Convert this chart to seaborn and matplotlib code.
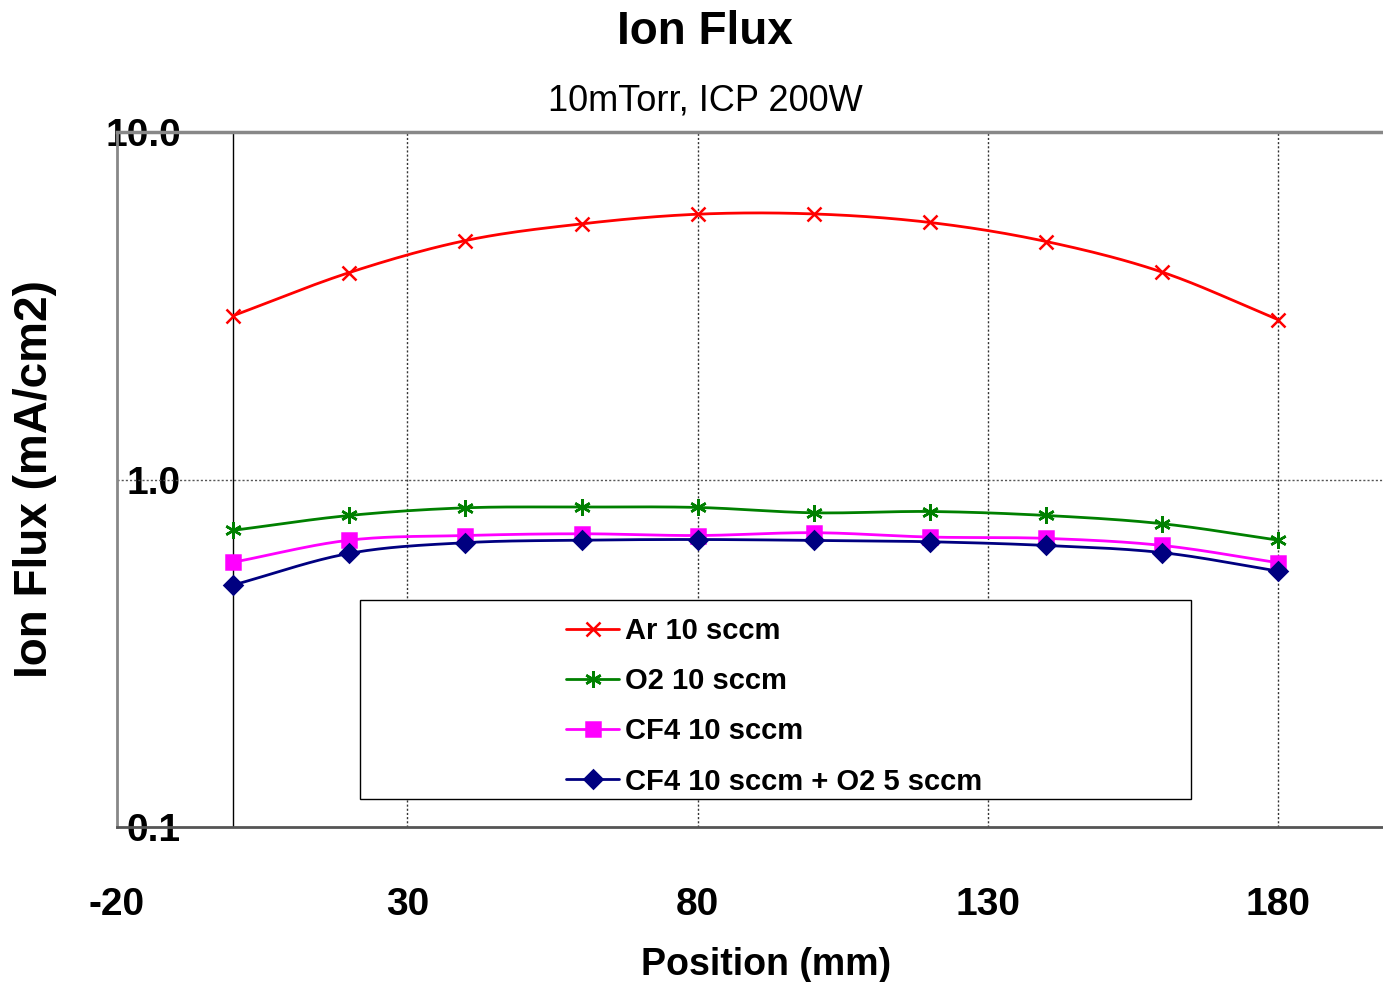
import numpy as np
import matplotlib
matplotlib.use("Agg")
import matplotlib.pyplot as plt
import seaborn as sns
from matplotlib.lines import Line2D
from matplotlib.patches import Rectangle

# ---- data ----
positions = [0, 20, 40, 60, 80, 100, 120, 140, 160, 180]
ar_10 = [2.96, 3.94, 4.87, 5.44, 5.80, 5.81, 5.49, 4.84, 3.95, 2.88]
o2_10 = [0.714, 0.788, 0.829, 0.833, 0.831, 0.802, 0.809, 0.788, 0.746, 0.669]
cf4_10 = [0.578, 0.669, 0.690, 0.698, 0.690, 0.703, 0.683, 0.677, 0.646, 0.576]
cf4_o2 = [0.497, 0.613, 0.658, 0.669, 0.672, 0.668, 0.662, 0.646, 0.616, 0.545]
series_names = ["Ar 10 sccm", "O2 10 sccm", "CF4 10 sccm", "CF4 10 sccm + O2 5 sccm"]
x_ticks = [-20, 30, 80, 130, 180]
y_ticks = [0.1, 1.0, 10.0]
y_ticklabels = ["0.1", "1.0", "10.0"]

colors = ["#FF0000", "#008000", "#FF00FF", "#000080"]
markers = ["x", (6, 2, 0), "s", "D"]
msizes = [10, 12, 10, 9]

sns.set_theme(style="white")
plt.rcParams["font.family"] = ["Liberation Sans", "DejaVu Sans"]
plt.rcParams["text.color"] = "black"
plt.rcParams["axes.labelcolor"] = "black"
plt.rcParams["xtick.color"] = "black"
plt.rcParams["ytick.color"] = "black"

fig = plt.figure(figsize=(13.83, 9.82), dpi=100)
ax = fig.add_axes([0.0846, 0.1578, 0.9154, 0.7078])


def smooth(x, y, n=20):
    # Catmull-Rom spline through points in (x, log10 y) space
    x = np.asarray(x, float)
    ly = np.log10(np.asarray(y, float))
    P = np.column_stack([x, ly])
    P = np.vstack([2 * P[0] - P[1], P, 2 * P[-1] - P[-2]])
    out = []
    for i in range(1, len(P) - 2):
        p0, p1, p2, p3 = P[i - 1], P[i], P[i + 1], P[i + 2]
        t = np.linspace(0, 1, n, endpoint=False)[:, None]
        seg = 0.5 * ((2 * p1) + (-p0 + p2) * t + (2 * p0 - 5 * p1 + 4 * p2 - p3) * t ** 2
                     + (-p0 + 3 * p1 - 3 * p2 + p3) * t ** 3)
        out.append(seg)
    out.append(P[-2][None, :])
    out = np.vstack(out)
    return out[:, 0], 10 ** out[:, 1]


all_series = [ar_10, o2_10, cf4_10, cf4_o2]
handles = []
for vals, name, c, m, ms in zip(all_series, series_names, colors, markers, msizes):
    sx, sy = smooth(positions, vals)
    sns.lineplot(x=sx, y=sy, ax=ax, color=c, lw=2.0, sort=False, estimator=None, zorder=3)
    ax.plot(positions, vals, ls="none", marker=m, ms=ms, color=c, mec=c, mew=1.8, zorder=4)
    handles.append(Line2D([0], [0], color=c, lw=2.0, marker=m, ms=ms, mec=c, mew=1.8))

ax.set_yscale("log")
ax.set_xlim(-20, 198)
ax.set_ylim(0.1, 10)

# grid lines
for xv in [30, 80, 130, 180]:
    ax.axvline(xv, color="#333333", lw=1.0, ls=(0, (1.5, 1.5)), zorder=1)
ax.axhline(1.0, color="#555555", lw=1.0, ls=(0, (1.5, 1.5)), zorder=1)
ax.axvline(0, color="black", lw=1.0, zorder=2)

ax.set_xticks(x_ticks)
ax.set_xticklabels([str(v) for v in x_ticks])
ax.set_yticks(y_ticks)
ax.set_yticklabels(y_ticklabels)
ax.yaxis.set_minor_locator(matplotlib.ticker.NullLocator())
ax.tick_params(axis="x", length=0, pad=43, labelsize=28, labelcolor="black")
ax.tick_params(axis="y", length=0, pad=-46, labelsize=28, labelcolor="black")
for lab in ax.get_xticklabels() + ax.get_yticklabels():
    lab.set_fontweight("bold")

ax.spines["right"].set_visible(False)
ax.spines["left"].set_color("#888888")
ax.spines["left"].set_linewidth(2.0)
ax.spines["top"].set_color("#888888")
ax.spines["top"].set_linewidth(2.5)
ax.spines["bottom"].set_color("#555555")
ax.spines["bottom"].set_linewidth(2.0)

ax.set_xlabel("Position (mm)", fontsize=27, fontweight="bold", color="black")
ax.xaxis.set_label_coords(0.513, -0.172)
ax.set_ylabel("Ion Flux (mA/cm2)", fontsize=33, fontweight="bold", color="black")
ax.yaxis.set_label_coords(-0.047, 0.5)

fig.text(0.51, 0.967, "Ion Flux", ha="center", va="center", fontsize=33, fontweight="bold", color="black")
fig.text(0.51, 0.897, "10mTorr, ICP 200W", ha="center", va="center", fontsize=26, color="black")

# legend box
ax.add_patch(Rectangle((0.192, 0.040), 0.656, 0.287, transform=ax.transAxes,
                       facecolor="white", edgecolor="black", lw=1.0, zorder=5))
leg = ax.legend(handles, series_names, loc="upper left", bbox_to_anchor=(0.355, 0.302),
                frameon=False, fontsize=21, handlelength=1.8, handletextpad=0.2,
                labelspacing=0.76, borderpad=0.0, borderaxespad=0.0)
leg.set_zorder(6)
for t in leg.get_texts():
    t.set_fontweight("bold")
    t.set_color("black")

fig.savefig("out.png", dpi=100)
